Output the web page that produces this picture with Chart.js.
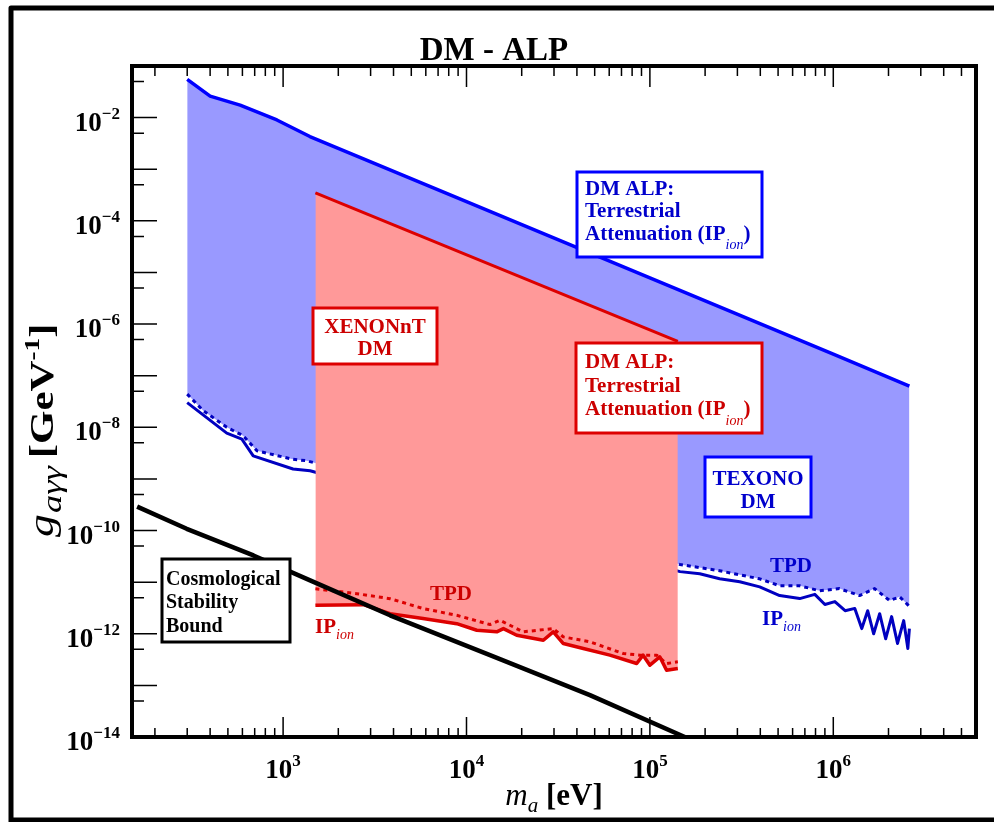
<!DOCTYPE html>
<html lang="en">
<head>
<meta charset="UTF-8">
<title>DM - ALP</title>
<style>
    html, body { margin: 0; padding: 0; background: #fff; }
    #myChart { display: block; }
</style>
<script src="https://cdn.jsdelivr.net/npm/chart.js"></script>
</head>
<body>
<canvas id="myChart" width="994" height="822"></canvas>
<script>
    // TEXONO DM: terrestrial attenuation (upper edge of the blue band)
    var texonoTopMass = [300, 400, 583, 925, 1400, 1e4, 1e5, 1e6, 2.6e6];
    var texonoTopG    = [5.5e-2, 2.6e-2, 1.75e-2, 9.0e-3, 4.3e-3, 2.35e-4, 7.85e-6, 2.62e-7, 6.25e-8];

    // TEXONO DM: TPD (dotted) lower edge
    var texonoTpdMass = [300, 367, 493, 605, 720, 1133, 1346, 1e4, 5e4, 1.46e5, 2.4e5, 3.97e5, 5.1e5,
                         6.56e5, 8.43e5, 1.08e6, 1.39e6, 1.68e6, 2.03e6, 2.3e6, 2.6e6];
    var texonoTpdG    = [4.4e-8, 2.1e-8, 1.0e-8, 6.9e-9, 3.5e-9, 2.4e-9, 2.25e-9, 3.2e-10, 7.1e-11, 2.2e-11,
                         1.66e-11, 1.16e-11, 8.5e-12, 8.5e-12, 6.8e-12, 7.5e-12, 5.5e-12, 7.5e-12, 4.4e-12,
                         5.2e-12, 3.4e-12];

    // TEXONO DM: IP_ion (solid) lower edge
    var texonoIpMass = [300, 493, 596, 687, 1133, 1403, 1e4, 5e4, 1.46e5, 1.87e5, 2.4e5, 3.09e5, 3.97e5,
                        5.1e5, 6.56e5, 7.93e5, 9.0e5, 1.02e6, 1.16e6, 1.31e6, 1.43e6, 1.54e6, 1.66e6,
                        1.79e6, 1.93e6, 2.08e6, 2.24e6, 2.42e6, 2.55e6, 2.6e6];
    var texonoIpG    = [3.0e-8, 7.7e-9, 5.9e-9, 2.8e-9, 1.56e-9, 1.44e-9, 2.1e-10, 4.5e-11, 1.6e-11,
                        1.45e-11, 1.16e-11, 1.02e-11, 8.1e-12, 5.5e-12, 4.8e-12, 5.8e-12, 3.7e-12, 4.2e-12,
                        2.8e-12, 3.1e-12, 1.26e-12, 2.8e-12, 1.0e-12, 2.45e-12, 8.0e-13, 2.15e-12, 6.5e-13,
                        1.8e-12, 5.2e-13, 1.26e-12];

    // XENONnT DM: terrestrial attenuation (upper edge of the red band)
    var xenonTopMass = [1500, 1.42e5];
    var xenonTopG    = [3.5e-4, 4.6e-7];

    // XENONnT DM: IP_ion (solid)
    var xenonIpMass = [1500, 2742, 3828, 5794, 8851, 1.138e4, 1.462e4, 1.589e4, 1.879e4, 2.624e4, 2.972e4,
                       3.373e4, 4.335e4, 6.053e4, 8.472e4, 9.183e4, 1e5, 1.132e5, 1.233e5, 1.42e5];
    var xenonIpG    = [3.56e-12, 3.66e-12, 2.45e-12, 1.97e-12, 1.57e-12, 1.17e-12, 1.09e-12, 1.26e-12,
                       9.35e-13, 7.48e-13, 1.09e-12, 6.47e-13, 5.18e-13, 3.85e-13, 2.65e-13, 3.85e-13,
                       2.46e-13, 3.58e-13, 1.97e-13, 2.13e-13];

    // XENONnT DM: TPD (dotted)
    var xenonTpdMass = [1500, 2523, 3828, 5821, 8851, 1.343e4, 1.523e4, 2.04e4, 2.97e4, 3.37e4, 4.71e4,
                        7.16e4, 8.83e4, 1.089e5, 1.233e5, 1.42e5];
    var xenonTpdG    = [7.46e-12, 5.98e-12, 4.79e-12, 3.07e-12, 2.28e-12, 1.51e-12, 1.82e-12, 1.09e-12,
                        1.26e-12, 8.71e-13, 6.97e-13, 4.14e-13, 3.85e-13, 3.85e-13, 2.65e-13, 2.86e-13];

    // Cosmological stability bound
    var cosmoMass = [160, 298, 689, 1403, 3828, 1.343e4, 4.71e4, 1.55e5];
    var cosmoG    = [2.91e-10, 1.08e-10, 3.29e-11, 1.08e-11, 2.28e-12, 3.85e-13, 6.49e-14, 1e-14];

    // axis ticks
    var xLabelTicks = [1e3, 1e4, 1e5, 1e6];
    var xLabelExps  = ['3', '4', '5', '6'];
    var yLabelTicks = [1e-2, 1e-4, 1e-6, 1e-8, 1e-10, 1e-12, 1e-14];
    var yLabelExps  = ['\u22122', '\u22124', '\u22126', '\u22128', '\u221210', '\u221212', '\u221214'];

    var serif = '"Liberation Serif", "Times New Roman", serif';
    function bold(n) { return 'bold ' + n + 'px ' + serif; }
    function ital(n) { return 'italic ' + n + 'px ' + serif; }

    function pts(xs, ys) {
        return xs.map(function(x, i) { return { x: x, y: ys[i] }; });
    }

    function curve(label, xs, ys, color, width, extra) {
        var ds = {
            label: label,
            data: pts(xs, ys),
            borderColor: color,
            borderWidth: width,
            pointRadius: 0,
            tension: 0,
            fill: false,
            borderJoinStyle: 'round'
        };
        return Object.assign(ds, extra || {});
    }

    // draws a run of text pieces (for sub/superscripts)
    function rich(ctx, x, y, parts, align, color) {
        var w = 0;
        parts.forEach(function(p) { ctx.font = p.font; p.w = ctx.measureText(p.t).width + (p.gap || 0); w += p.w; });
        var cx = align === 'center' ? x - w / 2 : (align === 'right' ? x - w : x);
        ctx.fillStyle = color;
        parts.forEach(function(p) {
            ctx.font = p.font;
            ctx.fillText(p.t, cx, y + (p.dy || 0));
            cx += p.w;
        });
    }

    function box(ctx, x, y, w, h, color) {
        ctx.fillStyle = '#fff';
        ctx.fillRect(x, y, w, h);
        ctx.strokeStyle = color;
        ctx.lineWidth = 3;
        ctx.strokeRect(x, y, w, h);
    }

    var decorations = {
        id: 'decorations',
        afterDatasetsDraw: function(chart) {
            var ctx = chart.ctx, a = chart.chartArea;
            var xs = chart.scales.x, ys = chart.scales.y;
            var blue = '#0000cc', red = '#cc0000';
            ctx.save();
            ctx.textBaseline = 'alphabetic';

            // annotation boxes
            box(ctx, 577, 172, 185, 85, '#0000ff');
            rich(ctx, 585, 195, [{ t: 'DM ALP:', font: bold(21) }], 'left', blue);
            rich(ctx, 585, 217, [{ t: 'Terrestrial', font: bold(21) }], 'left', blue);
            rich(ctx, 585, 240, [{ t: 'Attenuation (IP', font: bold(21) }, { t: 'ion', font: ital(14), dy: 9 },
                                 { t: ')', font: bold(21) }], 'left', blue);

            box(ctx, 576, 343, 186, 90, '#dd0000');
            rich(ctx, 585, 368, [{ t: 'DM ALP:', font: bold(21) }], 'left', red);
            rich(ctx, 585, 392, [{ t: 'Terrestrial', font: bold(21) }], 'left', red);
            rich(ctx, 585, 415, [{ t: 'Attenuation (IP', font: bold(21) }, { t: 'ion', font: ital(14), dy: 10 },
                                 { t: ')', font: bold(21) }], 'left', red);

            box(ctx, 313, 308, 124, 56, '#dd0000');
            rich(ctx, 375, 333, [{ t: 'XENONnT', font: bold(21) }], 'center', red);
            rich(ctx, 375, 355, [{ t: 'DM', font: bold(21) }], 'center', red);

            box(ctx, 705, 457, 106, 60, '#0000ff');
            rich(ctx, 758, 485, [{ t: 'TEXONO', font: bold(21) }], 'center', blue);
            rich(ctx, 758, 508, [{ t: 'DM', font: bold(21) }], 'center', blue);

            box(ctx, 162, 559, 128, 83, '#000');
            rich(ctx, 166, 585, [{ t: 'Cosmological', font: bold(20) }], 'left', '#000');
            rich(ctx, 166, 608, [{ t: 'Stability', font: bold(20) }], 'left', '#000');
            rich(ctx, 166, 632, [{ t: 'Bound', font: bold(20) }], 'left', '#000');

            // curve labels
            rich(ctx, 430, 600, [{ t: 'TPD', font: bold(21) }], 'left', red);
            rich(ctx, 315, 633, [{ t: 'IP', font: bold(21) }, { t: 'ion', font: ital(14), dy: 6 }], 'left', red);
            rich(ctx, 770, 572, [{ t: 'TPD', font: bold(21) }], 'left', blue);
            rich(ctx, 762, 625, [{ t: 'IP', font: bold(21) }, { t: 'ion', font: ital(14), dy: 6 }], 'left', blue);

            // plot frame
            ctx.strokeStyle = '#000';
            ctx.lineWidth = 4;
            ctx.strokeRect(a.left, a.top, a.right - a.left, a.bottom - a.top);

            // inward ticks
            ctx.lineWidth = 1.5;
            ctx.beginPath();
            for (var d = 2; d <= 6; d++) {
                for (var j = 1; j <= 9; j++) {
                    var v = j * Math.pow(10, d);
                    if (v <= xs.min || v >= xs.max) continue;
                    var px = xs.getPixelForValue(v);
                    var major = j === 1;
                    ctx.moveTo(px, a.bottom); ctx.lineTo(px, a.bottom - (major ? 20 : 9));
                    ctx.moveTo(px, a.top); ctx.lineTo(px, a.top + (major ? 21 : 10));
                }
            }
            for (var k = -14; k <= -1; k++) {
                var py = ys.getPixelForValue(Math.pow(10, k));
                ctx.moveTo(a.left, py); ctx.lineTo(a.left + 25, py);
                var pm = ys.getPixelForValue(5 * Math.pow(10, k));
                if (pm > a.top + 1) { ctx.moveTo(a.left, pm); ctx.lineTo(a.left + 12, pm); }
            }
            ctx.stroke();

            // tick labels
            xLabelTicks.forEach(function(v, i) {
                rich(ctx, xs.getPixelForValue(v), a.bottom + 41,
                     [{ t: '10', font: bold(27) }, { t: xLabelExps[i], font: bold(17), dy: -12 }], 'center', '#000');
            });
            yLabelTicks.forEach(function(v, i) {
                rich(ctx, a.left - 12, ys.getPixelForValue(v) + 13,
                     [{ t: '10', font: bold(27) }, { t: yLabelExps[i], font: bold(17), dy: -12 }], 'right', '#000');
            });

            // title and axis titles
            rich(ctx, 494, 60, [{ t: 'DM - ALP', font: bold(33) }], 'center', '#000');
            rich(ctx, (a.left + a.right) / 2, 805,
                 [{ t: 'm', font: ital(31) }, { t: 'a', font: ital(21), dy: 7 }, { t: ' [eV]', font: bold(31) }],
                 'center', '#000');
            ctx.translate(53, 537);
            ctx.rotate(-Math.PI / 2);
            ctx.scale(1.3, 1);
            rich(ctx, 0, 0,
                 [{ t: 'g', font: ital(35), gap: 1 }, { t: 'a\u03b3\u03b3', font: ital(28), dy: 8, gap: 6 },
                  { t: '[GeV', font: bold(33) }, { t: '-1', font: bold(21), dy: -14 }, { t: ']', font: bold(33) }],
                 'left', '#000');
            ctx.restore();

            // outer frame
            ctx.save();
            ctx.strokeStyle = '#000';
            ctx.lineWidth = 5;
            ctx.lineJoin = 'round';
            ctx.beginPath();
            ctx.moveTo(11, 822); ctx.lineTo(11, 8); ctx.lineTo(994, 8);
            ctx.moveTo(11, 820); ctx.lineTo(994, 820);
            ctx.stroke();
            ctx.restore();
        }
    };

    var ctx = document.getElementById('myChart').getContext('2d');
    var myChart = new Chart(ctx, {
        type: 'line',
        data: {
            datasets: [
                curve('Cosmological Stability Bound', cosmoMass, cosmoG, '#000', 4.5, { order: 0 }),
                curve('XENONnT TPD', xenonTpdMass, xenonTpdG, '#dd0000', 3, { borderDash: [4, 4], order: 1 }),
                curve('XENONnT IP_ion', xenonIpMass, xenonIpG, '#dd0000', 3.5, { order: 2 }),
                curve('XENONnT attenuation', xenonTopMass, xenonTopG, '#dd0000', 3,
                      { fill: { target: 2 }, backgroundColor: '#ff9999', order: 3 }),
                curve('TEXONO IP_ion', texonoIpMass, texonoIpG, '#0000c0', 3, { order: 4 }),
                curve('TEXONO TPD', texonoTpdMass, texonoTpdG, '#0000c0', 3, { borderDash: [4, 4], order: 5 }),
                curve('TEXONO attenuation', texonoTopMass, texonoTopG, '#0000ff', 3.5,
                      { fill: { target: 5 }, backgroundColor: '#9999ff', order: 6 })
            ]
        },
        options: {
            responsive: false,
            animation: false,
            devicePixelRatio: 1,
            layout: { padding: { left: 132, right: 18, top: 66, bottom: 85 } },
            scales: {
                x: { type: 'logarithmic', min: 150, max: 6e6, display: false },
                y: { type: 'logarithmic', min: 1e-14, max: 1e-1, display: false }
            },
            plugins: {
                legend: { display: false },
                tooltip: { enabled: false }
            }
        },
        plugins: [decorations]
    });
</script>
</body>
</html>
